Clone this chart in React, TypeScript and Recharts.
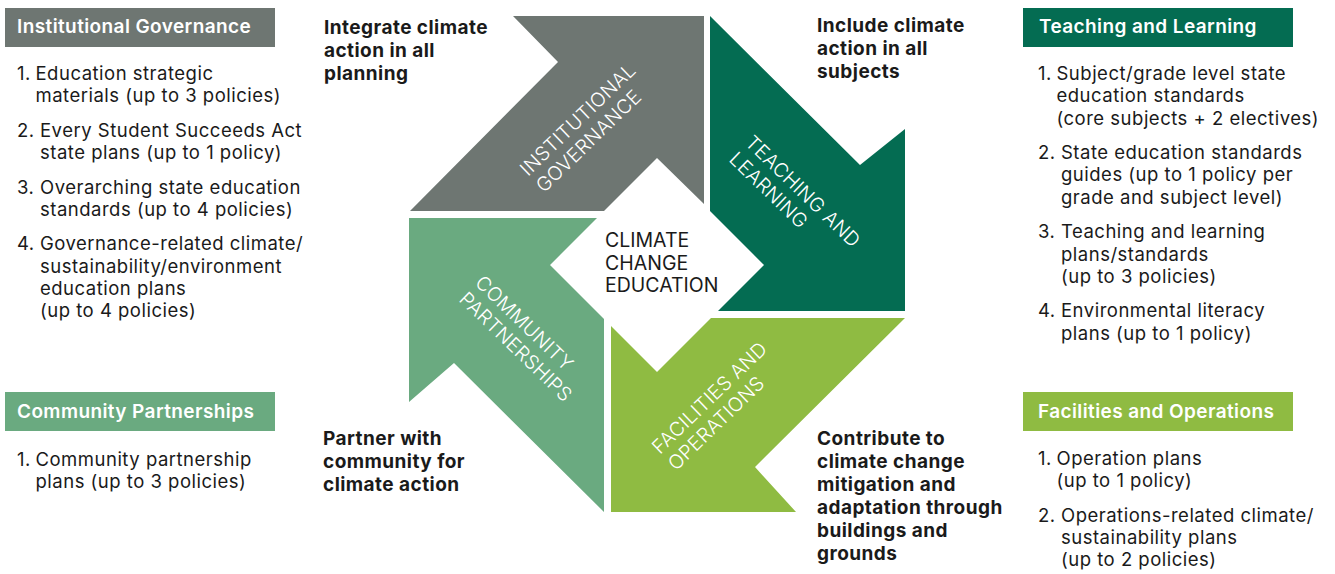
import React from 'react';
import { ScatterChart, Scatter, XAxis, YAxis, Polygon } from 'recharts';

// ---------- content ----------
const centerTitle = ['CLIMATE', 'CHANGE', 'EDUCATION'];
const domainNames = [
  'Institutional Governance',
  'Teaching and Learning',
  'Community Partnerships',
  'Facilities and Operations',
];
const domainColors = ['#6e7672', '#046c52', '#6aaa80', '#8fbb42'];
const arrowLabels = [
  ['INSTITUTIONAL', 'GOVERNANCE'],
  ['TEACHING AND', 'LEARNING'],
  ['COMMUNITY', 'PARTNERSHIPS'],
  ['FACILITIES AND', 'OPERATIONS'],
];
const actionCaptions = [
  ['Integrate climate', 'action in all', 'planning'],
  ['Include climate', 'action in all', 'subjects'],
  ['Partner with', 'community for', 'climate action'],
  ['Contribute to', 'climate change', 'mitigation and', 'adaptation through', 'buildings and', 'grounds'],
];
const governanceItems = [
  ['Education strategic', 'materials (up to 3 policies)'],
  ['Every Student Succeeds Act', 'state plans (up to 1 policy)'],
  ['Overarching state education', 'standards (up to 4 policies)'],
  ['Governance-related climate/', 'sustainability/environment', 'education plans', '(up to 4 policies)'],
];
const teachingItems = [
  ['Subject/grade level state', 'education standards', '(core subjects + 2 electives)'],
  ['State education standards', 'guides (up to 1 policy per', 'grade and subject level)'],
  ['Teaching and learning', 'plans/standards', '(up to 3 policies)'],
  ['Environmental literacy', 'plans (up to 1 policy)'],
];
const communityItems = [['Community partnership', 'plans (up to 3 policies)']];
const facilitiesItems = [
  ['Operation plans', '(up to 1 policy)'],
  ['Operations-related climate/', 'sustainability plans', '(up to 2 policies)'],
];

// ---------- layout (geometry only) ----------
const W = 1335;
const H = 574;
const FONT = 'Inter, "Noto Sans", sans-serif';
const arrowShapes = [
  [[513, 16], [704, 16], [704, 204], [657, 158], [604, 211], [410, 211], [558, 62]],
  [[710, 16], [860, 165], [905, 129], [905, 311], [718, 311], [764, 265], [710, 211]],
  [[409, 218], [597, 218], [550, 265], [604, 319], [604, 512], [454, 363], [409, 402]],
  [[905, 318], [755, 467], [796, 512], [611, 512], [611, 326], [657, 372], [711, 318]],
];
const headerBoxes = [
  { x1: 5, y1: 8, x2: 275, y2: 47, tx: 17, ty: 33 },
  { x1: 1023, y1: 8, x2: 1293, y2: 47, tx: 1039, ty: 33 },
  { x1: 5, y1: 392, x2: 275, y2: 431, tx: 17, ty: 418 },
  { x1: 1023, y1: 392, x2: 1293, y2: 431, tx: 1038, ty: 418 },
];
const labelBlocks = [
  { x: 528, y: 177, angle: -44 },
  { x: 744, y: 144, angle: 44 },
  { x: 474, y: 284, angle: 44 },
  { x: 660, y: 455, angle: -44 },
];
const captionBlocks = [
  { x: 324, y: 34 },
  { x: 817, y: 32 },
  { x: 323, y: 445 },
  { x: 817, y: 445 },
];
const listBlocks = [
  { items: governanceItems, x: 17, y: 80 },
  { items: teachingItems, x: 1038, y: 80 },
  { items: communityItems, x: 17, y: 466 },
  { items: facilitiesItems, x: 1038, y: 465 },
];
const LINE = 22.3;
const ITEM = 34.5;
const LABEL_LINE = 23;

type Pt = { x: number; y: number; t?: string; a?: number };

const toPts = (v: number[][]): Pt[] => v.map(([x, y]) => ({ x, y }));
const boxPts = (b: { x1: number; y1: number; x2: number; y2: number }): Pt[] =>
  toPts([[b.x1, b.y1], [b.x2, b.y1], [b.x2, b.y2], [b.x1, b.y2]]);

const numPts: Pt[] = [];
const listPts: Pt[] = [];
listBlocks.forEach((blk) => {
  let y = blk.y;
  blk.items.forEach((item, i) => {
    numPts.push({ x: blk.x, y, t: `${i + 1}.` });
    const ind = i === 0 ? 18.5 : 23;
    item.forEach((ln, j) => listPts.push({ x: blk.x + ind, y: y + j * LINE, t: ln }));
    y += (item.length - 1) * LINE + ITEM;
  });
});

const captionPts: Pt[] = [];
actionCaptions.forEach((lines, i) => {
  lines.forEach((ln, j) => captionPts.push({ x: captionBlocks[i].x, y: captionBlocks[i].y + j * 23, t: ln }));
});

const headerPts: Pt[] = domainNames.map((n, i) => ({ x: headerBoxes[i].tx, y: headerBoxes[i].ty, t: n }));

const labelPts: Pt[] = [];
arrowLabels.forEach((lines, i) => {
  const b = labelBlocks[i];
  const r = (b.angle * Math.PI) / 180;
  const dx = -Math.sin(r);
  const dy = Math.cos(r);
  lines.forEach((ln, j) =>
    labelPts.push({ x: b.x + dx * j * LABEL_LINE, y: b.y + dy * j * LABEL_LINE, t: ln, a: b.angle })
  );
});

const centerPts: Pt[] = centerTitle.map((t, j) => ({ x: 605, y: 247 + j * 22.5, t }));

const Nothing = () => <g />;

const makeText = (style: React.SVGProps<SVGTextElement>) => (props: any) => {
  const { cx, cy, payload } = props;
  const a = payload.a || 0;
  return (
    <text
      x={cx}
      y={cy}
      transform={a ? `rotate(${a} ${cx} ${cy})` : undefined}
      fontFamily={FONT}
      {...style}
    >
      {payload.t}
    </text>
  );
};

const polyLine = (fill: string) => (p: any) => <Polygon points={p.points} fill={fill} stroke="none" />;

export default function App() {
  return (
    <div style={{ width: W, height: H }}>
      <style>{`body{margin:0;background:#fff}`}</style>
      <ScatterChart width={W} height={H} margin={{ top: 0, right: 0, bottom: 0, left: 0 }}>
        <XAxis type="number" dataKey="x" domain={[0, W]} hide allowDataOverflow />
        <YAxis type="number" dataKey="y" domain={[0, H]} reversed hide allowDataOverflow />
        {arrowShapes.map((s, i) => (
          <Scatter
            key={`arrow${i}`}
            data={toPts(s)}
            line={polyLine(domainColors[i])}
            shape={Nothing}
            isAnimationActive={false}
          />
        ))}
        {headerBoxes.map((b, i) => (
          <Scatter
            key={`box${i}`}
            data={boxPts(b)}
            line={polyLine(domainColors[i])}
            shape={Nothing}
            isAnimationActive={false}
          />
        ))}
        <Scatter data={headerPts} shape={makeText({ fill: '#fff', fontSize: 19, fontWeight: 600, letterSpacing: 0.4 })} isAnimationActive={false} />
        <Scatter data={numPts} shape={makeText({ fill: '#1a1a1a', fontSize: 18.5, fontWeight: 400, letterSpacing: 0.5 })} isAnimationActive={false} />
        <Scatter data={listPts} shape={makeText({ fill: '#1a1a1a', fontSize: 18.5, fontWeight: 400, letterSpacing: 0.5 })} isAnimationActive={false} />
        <Scatter data={captionPts} shape={makeText({ fill: '#1a1a1a', fontSize: 19, fontWeight: 700, letterSpacing: 0.45 })} isAnimationActive={false} />
        <Scatter data={labelPts} shape={makeText({ fill: '#fff', fontSize: 19.5, fontWeight: 300, letterSpacing: 0.3 })} isAnimationActive={false} />
        <Scatter data={centerPts} shape={makeText({ fill: '#1a1a1a', fontSize: 19.5, fontWeight: 400 })} isAnimationActive={false} />
      </ScatterChart>
    </div>
  );
}
